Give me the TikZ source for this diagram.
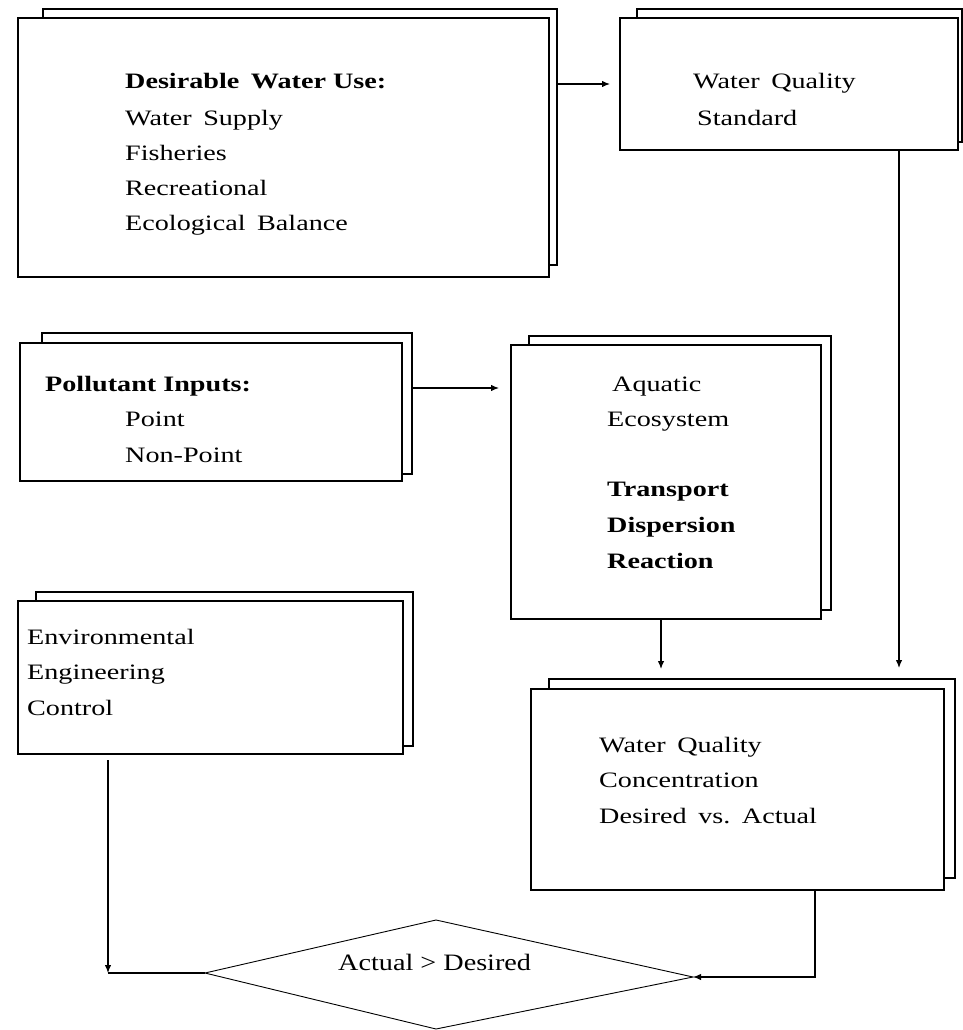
\documentclass[tikz,border=0pt]{standalone}
\usepackage{fontspec}
\setmainfont[FakeStretch=1.28]{Liberation Serif}
\usetikzlibrary{arrows.meta,calc}
\newcommand{\wsp}{\ \hspace{4.5pt}}
\begin{document}
\begin{tikzpicture}[x=1pt,y=-1pt,
  boxshape/.style={draw,line width=1.3pt,fill=white,inner sep=0pt,outer sep=0pt,anchor=north west},
  txt/.style={anchor=base west,inner sep=0pt,font=\fontsize{22}{26}\selectfont},
  btxt/.style={anchor=base west,inner sep=0pt,font=\fontsize{22}{26}\selectfont\bfseries},
  conn/.style={line width=1.2pt},
  arr/.style={conn,-{Latex[length=8pt,width=6.5pt]}}]
\useasboundingbox (0,0) rectangle (963,1030);

% Box 1
\node[boxshape,minimum width=514pt,minimum height=256pt] (b1back) at (43,9) {};
\node[boxshape,minimum width=531pt,minimum height=259pt] (b1) at (18,18) {};
\node[btxt] (t1a) at (125,89) {Desirable\wsp Water Use:};
\node[txt] (t1b) at (125,125) {Water\wsp Supply};
\node[txt] (t1c) at (125,160) {Fisheries};
\node[txt] (t1d) at (125,195) {Recreational};
\node[txt] (t1e) at (125,230) {Ecological\wsp Balance};

% Box 2
\node[boxshape,minimum width=325pt,minimum height=133pt] (b2back) at (637,9) {};
\node[boxshape,minimum width=338pt,minimum height=132pt] (b2) at (620,18) {};
\node[txt] (t2a) at (693,89) {Water\wsp Quality};
\node[txt] (t2b) at (697,125) {Standard};

% Box 3
\node[boxshape,minimum width=370pt,minimum height=141pt] (b3back) at (42,333) {};
\node[boxshape,minimum width=382pt,minimum height=138pt] (b3) at (20,343) {};
\node[btxt] (t3a) at (45,391) {Pollutant Inputs:};
\node[txt] (t3b) at (125,426) {Point};
\node[txt] (t3c) at (125,462) {Non-Point};

% Box 4
\node[boxshape,minimum width=302pt,minimum height=274pt] (b4back) at (529,336) {};
\node[boxshape,minimum width=310pt,minimum height=274pt] (b4) at (511,345) {};
\node[txt] (t4a) at (612,391) {Aquatic};
\node[txt] (t4b) at (607,426) {Ecosystem};
\node[btxt] (t4c) at (607,496) {Transport};
\node[btxt] (t4d) at (607,532) {Dispersion};
\node[btxt] (t4e) at (607,568) {Reaction};

% Box 5
\node[boxshape,minimum width=377pt,minimum height=154pt] (b5back) at (36,592) {};
\node[boxshape,minimum width=385pt,minimum height=153pt] (b5) at (18,601) {};
\node[txt] (t5a) at (27,644) {Environmental};
\node[txt] (t5b) at (27,679) {Engineering};
\node[txt] (t5c) at (27,715) {Control};

% Box 6
\node[boxshape,minimum width=406pt,minimum height=199pt] (b6back) at (549,679) {};
\node[boxshape,minimum width=413pt,minimum height=201pt] (b6) at (531,689) {};
\node[txt] (t6a) at (599,752) {Water\wsp Quality};
\node[txt] (t6b) at (599,787) {Concentration};
\node[txt] (t6c) at (599,823) {Desired\wsp vs.\wsp Actual};

% Decision diamond
\coordinate (dT) at (436,920);
\coordinate (dL) at (205,973);
\coordinate (dB) at (436,1029);
\coordinate (dR) at (693,977);
\draw[line width=0.9pt] (dT) -- (dL) -- (dB) -- (dR) -- cycle;
\node[anchor=base west,inner sep=0pt,font=\fontsize{23.5}{27}\selectfont\addfontfeature{FakeStretch=1.2}] (dec) at (338,970) {Actual > Desired};

% Connectors
\draw[arr] ($(b1back.north east)+(0,75)$) -- ($(b2.north west)+(-10,66)$);
\draw[arr] ($(b2.south west)+(279,0)$) -- ($(b6back.north west)+(350,-11)$);
\draw[arr] ($(b3back.north east)+(0,55)$) -- ($(b4.north west)+(-12,43)$);
\draw[arr] ($(b4.south west)+(150,0)$) -- ($(b6back.north west)+(112,-10)$);
\coordinate (p5) at ($(b5.south west)+(90,6)$);
\draw[arr] (p5) -- (p5 |- dL);
\draw[conn] (dL) -- (p5 |- dL);
\coordinate (p6) at ($(b6.south west)+(284,0)$);
\draw[arr] (p6) |- (dR);
\end{tikzpicture}
\end{document}
